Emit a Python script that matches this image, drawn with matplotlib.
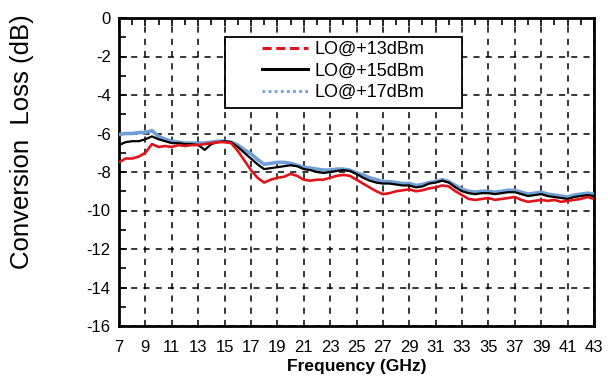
import numpy as np
import matplotlib
matplotlib.use("Agg")
from matplotlib import pyplot as plt
from matplotlib.lines import Line2D
from matplotlib.patches import Rectangle

# === DATA ===
freq = [7, 7.5, 8, 8.5, 9, 9.5, 10, 10.5, 11, 11.5, 12, 12.5, 13, 13.5, 14, 14.5,
        15, 15.5, 16, 16.5, 17, 17.5, 18, 18.5, 19, 19.5, 20, 20.5, 21, 21.5, 22, 22.5,
        23, 23.5, 24, 24.5, 25, 25.5, 26, 26.5, 27, 27.5, 28, 28.5, 29, 29.5, 30, 30.5,
        31, 31.5, 32, 32.5, 33, 33.5, 34, 34.5, 35, 35.5, 36, 36.5, 37, 37.5, 38, 38.5,
        39, 39.5, 40, 40.5, 41, 41.5, 42, 42.5, 43]

lo13 = [-7.5, -7.3, -7.3, -7.2, -7.0, -6.55, -6.7, -6.65, -6.7, -6.6, -6.65, -6.6, -6.6, -6.55, -6.5, -6.45,
        -6.45, -6.5, -6.9, -7.4, -7.9, -8.3, -8.55, -8.4, -8.3, -8.25, -8.1, -8.2, -8.4, -8.45, -8.4, -8.4,
        -8.3, -8.2, -8.15, -8.2, -8.4, -8.6, -8.8, -9.0, -9.15, -9.1, -9.0, -8.95, -8.9, -9.0, -8.95, -8.85,
        -8.8, -8.7, -8.75, -9.0, -9.2, -9.4, -9.45, -9.4, -9.35, -9.45, -9.4, -9.35, -9.3, -9.45, -9.55, -9.5,
        -9.45, -9.5, -9.45, -9.55, -9.5, -9.45, -9.4, -9.3, -9.4]

lo15 = [-6.6, -6.45, -6.4, -6.4, -6.3, -6.15, -6.3, -6.4, -6.5, -6.5, -6.55, -6.55, -6.6, -6.85, -6.55, -6.45,
        -6.4, -6.45, -6.7, -7.0, -7.3, -7.6, -7.85, -7.8, -7.75, -7.7, -7.65, -7.7, -7.85, -7.9, -8.0, -8.05,
        -8.0, -7.95, -7.9, -7.95, -8.1, -8.3, -8.45, -8.55, -8.6, -8.6, -8.65, -8.7, -8.7, -8.8, -8.75, -8.6,
        -8.55, -8.45, -8.55, -8.8, -9.0, -9.1, -9.15, -9.1, -9.1, -9.15, -9.1, -9.05, -9.05, -9.15, -9.25, -9.2,
        -9.15, -9.25, -9.3, -9.35, -9.4, -9.3, -9.25, -9.2, -9.25]

lo17 = [-6.05, -6.0, -6.0, -5.95, -5.95, -5.85, -6.15, -6.3, -6.4, -6.45, -6.5, -6.5, -6.5, -6.5, -6.45, -6.4,
        -6.4, -6.45, -6.6, -6.85, -7.05, -7.35, -7.6, -7.55, -7.5, -7.5, -7.55, -7.65, -7.75, -7.8, -7.85, -7.9,
        -7.9, -7.85, -7.85, -7.9, -8.05, -8.15, -8.3, -8.4, -8.5, -8.5, -8.55, -8.6, -8.6, -8.7, -8.65, -8.55,
        -8.5, -8.4, -8.5, -8.7, -8.9, -9.0, -9.05, -9.0, -9.0, -9.05, -9.0, -8.95, -8.95, -9.05, -9.15, -9.1,
        -9.05, -9.15, -9.2, -9.25, -9.3, -9.2, -9.15, -9.1, -9.15]

labels = ["LO@+13dBm", "LO@+15dBm", "LO@+17dBm"]
xticks = list(range(7, 44, 2))
yticks = list(range(-16, 1, 2))

# === PLOT ===
plt.rcParams['font.family'] = ['Liberation Sans', 'DejaVu Sans']
plt.rcParams['axes.unicode_minus'] = False

fig = plt.figure(figsize=(6.08, 3.84), dpi=100)
ax = fig.add_axes([119 / 608, 1 - 326 / 384, 475 / 608, 308 / 384])

ax.plot(freq, lo17, color='#6f9fd6', lw=2.6, zorder=3)
ax.plot(freq, lo15, color='black', lw=1.6, zorder=4)
ax.plot(freq, lo13, color='#e0141b', lw=1.9, zorder=5)

ax.set_xlim(7, 43)
ax.set_ylim(-16, 0)
ax.set_xticks(xticks)
ax.set_yticks(yticks)
ax.set_xticks(range(7, 44), minor=True)
ax.set_yticks(range(-16, 1), minor=True)
# ticks only on top and left, pointing in
ax.tick_params(which='both', direction='in', top=True, bottom=False, right=False,
               left=True, width=1.2)
ax.tick_params(which='major', length=6, labelsize=12, pad=6)
ax.tick_params(axis='x', which='major', pad=10)
ax.tick_params(which='minor', length=5)

ax.grid(True, which='major', color='black', ls=(0, (4, 4)), lw=1.1)
for s in ax.spines.values():
    s.set_linewidth(2)

ax.set_xlabel('Frequency (GHz)', fontsize=12.5, fontweight='bold', labelpad=3)
fig.text(0.036, 0.63, 'Conversion  Loss (dB)', rotation=90, fontsize=18.5,
         ha='center', va='center')

# legend: box drawn separately, entries placed inside it
ax.add_patch(Rectangle((0.223, 0.707), 0.5, 0.232, transform=ax.transAxes,
                       facecolor='white', edgecolor='black', lw=1.3, zorder=6))
handles = [Line2D([], [], color='#e0141b', lw=2.2, ls=(0, (3, 1.5))),
           Line2D([], [], color='black', lw=2.2),
           Line2D([], [], color='#6f9fd6', lw=2, ls=(0, (1, 1.2)))]
leg = ax.legend(handles, labels, loc='upper left', bbox_to_anchor=(0.3, 0.925),
                fontsize=13, frameon=False, handlelength=2.6, handletextpad=0.35,
                labelspacing=0.25, borderpad=0, borderaxespad=0)
leg.set_zorder(7)

fig.savefig('out.png', dpi=100)
